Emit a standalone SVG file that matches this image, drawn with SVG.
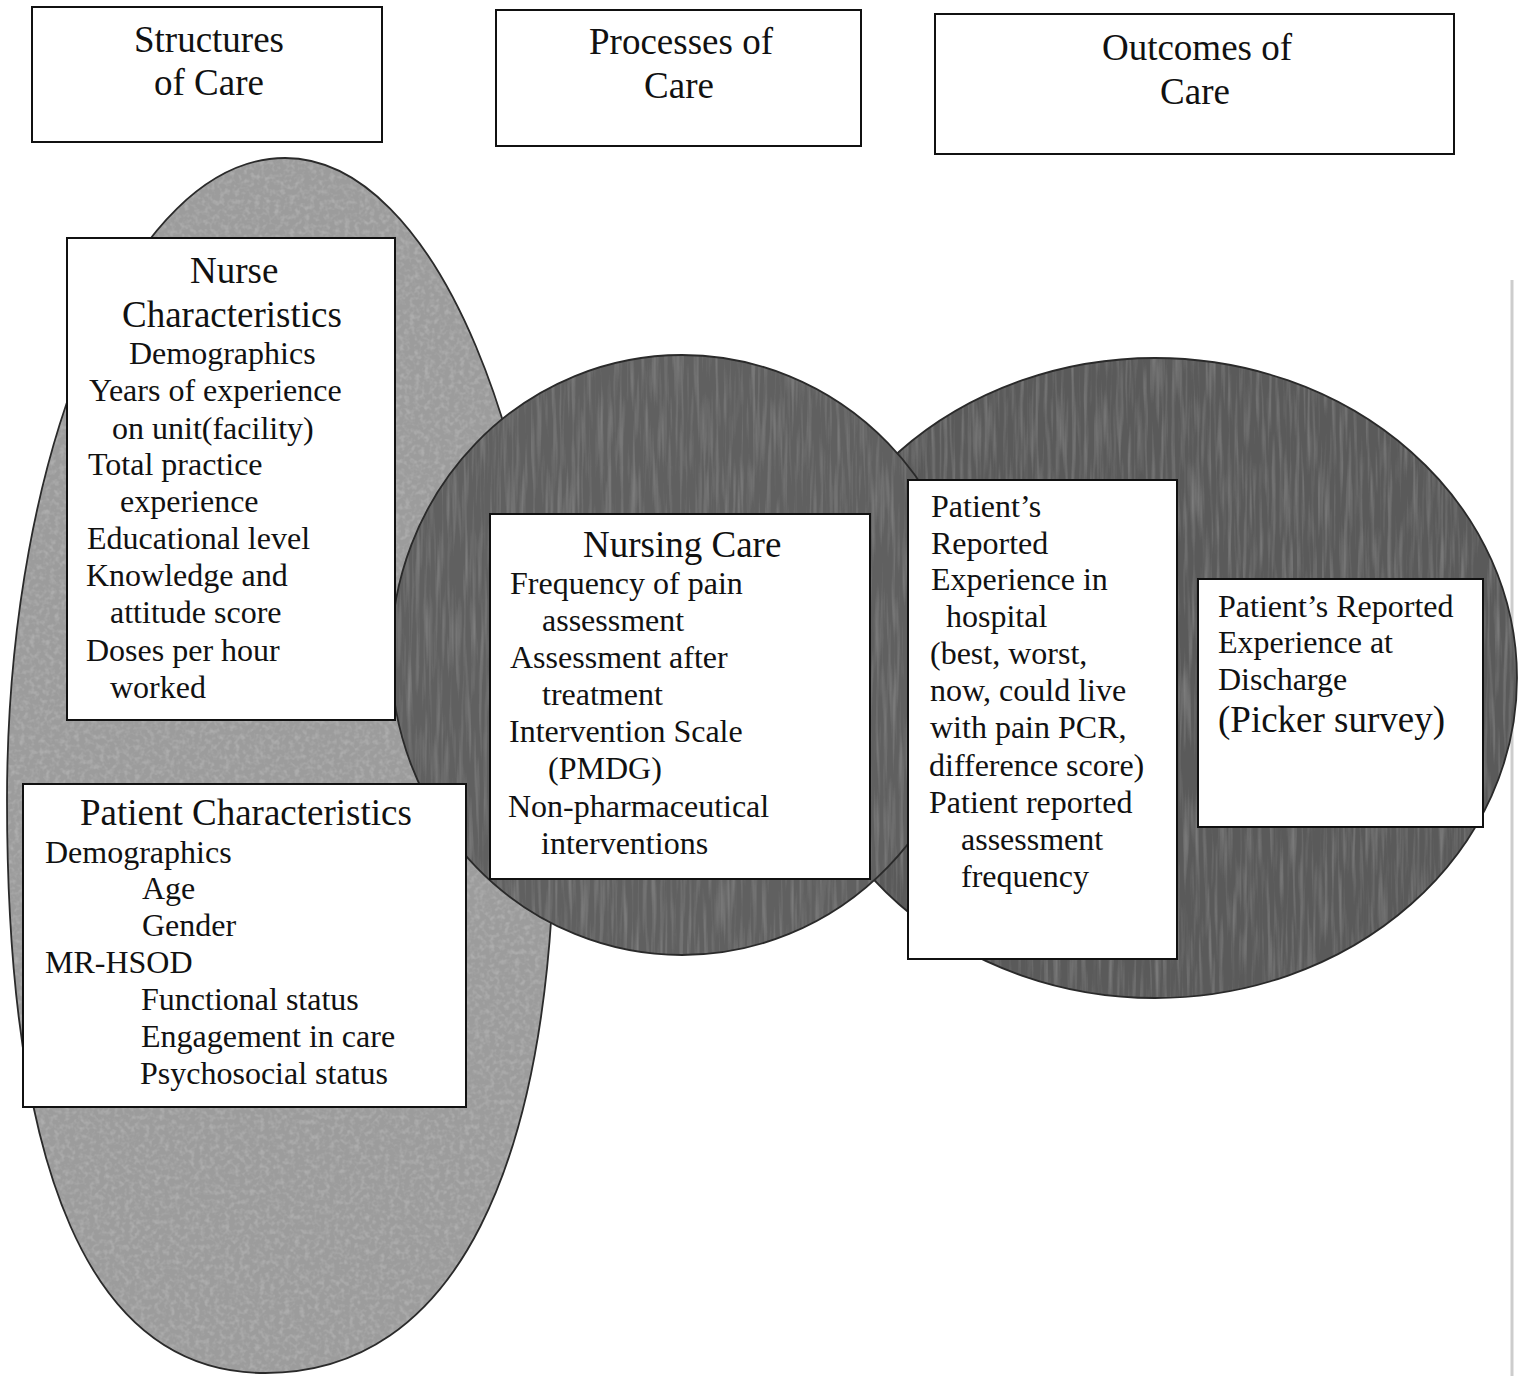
<svg xmlns="http://www.w3.org/2000/svg" width="1523" height="1376" viewBox="0 0 1523 1376">
<style>
  text { font-family: "Liberation Serif", "Times New Roman", serif; fill: #111; }
  .hd { font-size: 37px; text-anchor: middle; }
  .tt { font-size: 37px; }
  .bd { font-size: 32px; }
  .box { fill: #fff; stroke: #111; stroke-width: 2; }
  .hbox { fill: #fff; stroke: #111; stroke-width: 2; }
  .edge { fill: none; stroke: #2a2a2a; stroke-width: 1.8; }
</style>
<defs>
  <filter id="grain" x="0" y="0" width="100%" height="100%">
    <feTurbulence type="fractalNoise" baseFrequency="0.2" numOctaves="2" seed="4" result="n"/>
    <feColorMatrix in="n" type="matrix" values="0 0 0 0 0.42  0 0 0 0 0.42  0 0 0 0 0.42  0 0 0 2.6 -1.15" result="dots"/>
    <feComposite in="dots" in2="SourceGraphic" operator="atop"/>
  </filter>
  <filter id="grain2" x="0" y="0" width="100%" height="100%">
    <feTurbulence type="fractalNoise" baseFrequency="0.25 0.015" numOctaves="2" seed="9" result="n"/>
    <feColorMatrix in="n" type="matrix" values="0 0 0 0 0.32  0 0 0 0 0.32  0 0 0 0 0.32  0 0 0 1.0 -0.45" result="dots"/>
    <feComposite in="dots" in2="SourceGraphic" operator="atop"/>
  </filter>
  <path id="lshape" d="M285,158 C434,158 555,446 555,800 C555,1172 453,1373 265,1373 C90,1373 7,1172 7,800 C7,446 132,158 285,158 Z"/>
  <ellipse id="rshape" cx="1155" cy="678" rx="362" ry="320"/>
  <ellipse id="mshape" cx="682" cy="655" rx="291" ry="300"/>
</defs>
<rect width="1523" height="1376" fill="#fff"/>
<line x1="1512" y1="280" x2="1512" y2="1376" stroke="#cdcdcd" stroke-width="3"/>

<g id="structures-ellipse">
  <use href="#lshape" fill="#9c9c9c" filter="url(#grain)"/>
  <use href="#lshape" class="edge"/>
</g>
<g id="outcomes-ellipse">
  <use href="#rshape" fill="#5a5a5a" filter="url(#grain2)"/>
  <use href="#rshape" class="edge"/>
</g>
<g id="processes-circle">
  <use href="#mshape" fill="#606060" filter="url(#grain2)"/>
  <use href="#mshape" class="edge"/>
</g>

<g id="connectors"></g>

<g id="header-structures">
  <rect class="hbox" x="32" y="7" width="350" height="135"/>
  <text class="hd" x="209" y="52">Structures</text>
  <text class="hd" x="209" y="95">of Care</text>
</g>
<g id="header-processes">
  <rect class="hbox" x="496" y="10" width="365" height="136"/>
  <text class="hd" x="681" y="54">Processes of</text>
  <text class="hd" x="679" y="98">Care</text>
</g>
<g id="header-outcomes">
  <rect class="hbox" x="935" y="14" width="519" height="140"/>
  <text class="hd" x="1197" y="60">Outcomes of</text>
  <text class="hd" x="1195" y="104">Care</text>
</g>

<g id="nurse-characteristics">
  <rect class="box" x="67" y="238" width="328" height="482"/>
  <text class="tt" x="190" y="283">Nurse</text>
  <text class="tt" x="122" y="327">Characteristics</text>
  <text class="bd" x="129" y="364">Demographics</text>
  <text class="bd" x="89" y="401">Years of experience</text>
  <text class="bd" x="112" y="439">on unit(facility)</text>
  <text class="bd" x="88" y="475">Total practice</text>
  <text class="bd" x="120" y="512">experience</text>
  <text class="bd" x="87" y="549">Educational level</text>
  <text class="bd" x="86" y="586">Knowledge and</text>
  <text class="bd" x="110" y="623">attitude score</text>
  <text class="bd" x="86" y="661">Doses per hour</text>
  <text class="bd" x="110" y="698">worked</text>
</g>

<g id="patient-characteristics">
  <rect class="box" x="23" y="784" width="443" height="323"/>
  <text class="tt" x="80" y="825">Patient Characteristics</text>
  <text class="bd" x="45" y="863">Demographics</text>
  <text class="bd" x="142" y="899">Age</text>
  <text class="bd" x="142" y="936">Gender</text>
  <text class="bd" x="45" y="973">MR-HSOD</text>
  <text class="bd" x="141" y="1010">Functional status</text>
  <text class="bd" x="141" y="1047">Engagement in care</text>
  <text class="bd" x="140" y="1084">Psychosocial status</text>
</g>

<g id="nursing-care">
  <rect class="box" x="490" y="514" width="380" height="365"/>
  <text class="tt" x="583" y="557">Nursing Care</text>
  <text class="bd" x="510" y="594">Frequency of pain</text>
  <text class="bd" x="542" y="631">assessment</text>
  <text class="bd" x="510" y="668">Assessment after</text>
  <text class="bd" x="542" y="705">treatment</text>
  <text class="bd" x="509" y="742">Intervention Scale</text>
  <text class="bd" x="548" y="779">(PMDG)</text>
  <text class="bd" x="508" y="817">Non-pharmaceutical</text>
  <text class="bd" x="541" y="854">interventions</text>
</g>

<g id="experience-in-hospital">
  <rect class="box" x="908" y="480" width="269" height="479"/>
  <text class="bd" x="931" y="517">Patient&#8217;s</text>
  <text class="bd" x="931" y="554">Reported</text>
  <text class="bd" x="931" y="590">Experience in</text>
  <text class="bd" x="946" y="627">hospital</text>
  <text class="bd" x="930" y="664">(best, worst,</text>
  <text class="bd" x="930" y="701">now, could live</text>
  <text class="bd" x="930" y="738">with pain PCR,</text>
  <text class="bd" x="929" y="776">difference score)</text>
  <text class="bd" x="929" y="813">Patient reported</text>
  <text class="bd" x="961" y="850">assessment</text>
  <text class="bd" x="961" y="887">frequency</text>
</g>

<g id="experience-at-discharge">
  <rect class="box" x="1198" y="579" width="285" height="248"/>
  <text class="bd" x="1218" y="617">Patient&#8217;s Reported</text>
  <text class="bd" x="1218" y="653">Experience at</text>
  <text class="bd" x="1218" y="690">Discharge</text>
  <text class="tt" x="1218" y="732">(Picker survey)</text>
</g>
</svg>
